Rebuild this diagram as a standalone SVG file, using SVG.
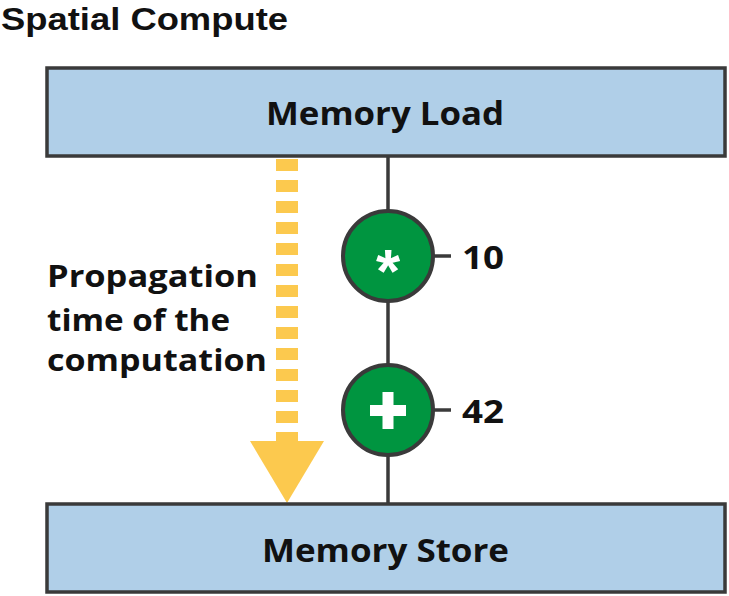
<svg xmlns="http://www.w3.org/2000/svg" width="729" height="596" viewBox="0 0 729 596">
<style>
.t{font-family:"Open Sans","Liberation Sans",sans-serif;font-weight:700;fill:#111}
.box{fill:#b0cfe8;stroke:#3a3a3a;stroke-width:3.5}
.op{fill:#009540;stroke:#3a3a3a;stroke-width:4}
.ln{stroke:#3a3a3a;stroke-width:3.5;fill:none}
</style>
<rect width="729" height="596" fill="#fff"/>
<text x="1" y="30" font-size="32" font-family="Liberation Sans,Arial,sans-serif" font-weight="700" fill="#111" textLength="287" lengthAdjust="spacingAndGlyphs">Spatial Compute</text>
<g id="arrow">
<line x1="287" y1="159" x2="287" y2="441" stroke="#fcc94e" stroke-width="22" stroke-dasharray="12 9"/>
<polygon points="250,441 324,441 287,503" fill="#fcc94e"/>
</g>
<g id="connectors">
<line class="ln" x1="388" y1="157" x2="388" y2="503"/>
<line class="ln" x1="434" y1="256" x2="451" y2="256"/>
<line class="ln" x1="434" y1="410" x2="451" y2="410"/>
</g>
<g id="load">
<rect class="box" x="47" y="68" width="678" height="88"/>
<text class="t" x="266" y="125" font-size="33" textLength="238" lengthAdjust="spacingAndGlyphs">Memory Load</text>
</g>
<g id="store">
<rect class="box" x="47" y="504" width="678" height="88"/>
<text class="t" x="262" y="562" font-size="33" textLength="247" lengthAdjust="spacingAndGlyphs">Memory Store</text>
</g>
<g id="mul">
<circle class="op" cx="388" cy="256" r="45"/>
<text x="388" y="292" font-size="62" text-anchor="middle" font-family="Liberation Sans,sans-serif" font-weight="700" fill="#fff">*</text>
</g>
<g id="add">
<circle class="op" cx="388" cy="410" r="45"/>
<rect x="370" y="405" width="36" height="11" fill="#fff"/>
<rect x="382.5" y="392" width="11" height="37" fill="#fff"/>
</g>
<text class="t" x="462" y="269" font-size="33" textLength="42" lengthAdjust="spacingAndGlyphs">10</text>
<text class="t" x="462" y="423" font-size="33" textLength="42" lengthAdjust="spacingAndGlyphs">42</text>
<g class="t" font-size="31">
<text x="47" y="287" textLength="211" lengthAdjust="spacingAndGlyphs">Propagation</text>
<text x="47" y="331" textLength="183" lengthAdjust="spacingAndGlyphs">time of the</text>
<text x="47" y="371" textLength="220" lengthAdjust="spacingAndGlyphs">computation</text>
</g>
</svg>
